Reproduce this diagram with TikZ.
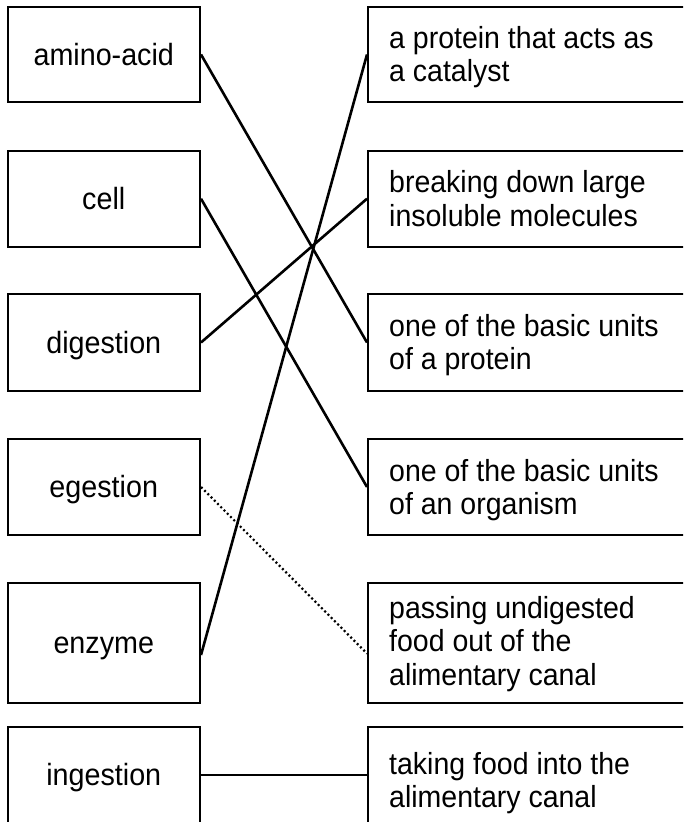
\documentclass[tikz,border=0pt]{standalone}
\usepackage{fontspec}
\usepackage{graphicx}
\setmainfont{Liberation Sans}
\newcommand{\tallt}[1]{\scalebox{1}[1.07]{#1}}
\begin{document}
\begin{tikzpicture}[x=1pt,y=-1pt,
  lbox/.style={draw=black, line width=2pt, minimum width=192.5pt, inner sep=0pt},
  rbox/.style={draw=black, line width=2pt, minimum width=332pt, inner sep=0pt},
  ltxt/.style={anchor=base, inner sep=0pt, font=\fontsize{28.7}{33.3}\selectfont},
  rtxt/.style={anchor=base west, inner sep=0pt, font=\fontsize{28.5}{33.3}\selectfont},
  link/.style={line width=2.6pt, black},
  dotlink/.style={line width=2.2pt, black, dash pattern=on 2pt off 2.6pt}]
\path[use as bounding box, clip] (0,0) rectangle (683,822);
\fill[white] (0,0) rectangle (683,822);
% left boxes
\node[lbox, minimum height=95pt]    (amino) at (103.75,54.5)  {};
\node[lbox, minimum height=96pt]    (cell)  at (103.75,198.7) {};
\node[lbox, minimum height=96.4pt]  (dig)   at (103.75,342.5) {};
\node[lbox, minimum height=96pt]    (eges)  at (103.75,487)   {};
\node[lbox, minimum height=120.6pt] (enz)   at (103.75,643)   {};
\node[lbox, minimum height=96.6pt]  (inges) at (103.75,775)   {};
\node[ltxt] (aminoT) at (103.75,65)    {\tallt{amino-acid}};
\node[ltxt] (cellT)  at (103.75,209.3) {\tallt{cell}};
\node[ltxt] (digT)   at (103.75,353)   {\tallt{digestion}};
\node[ltxt] (egesT)  at (103.75,497.5) {\tallt{egestion}};
\node[ltxt] (enzT)   at (103.75,653.3) {\tallt{enzyme}};
\node[ltxt] (ingesT) at (103.75,785)   {\tallt{ingestion}};
% right boxes
\node[rbox, minimum height=95pt]    (cat)   at (534,54.5)  {};
\node[rbox, minimum height=96pt]    (brk)   at (534,198.7) {};
\node[rbox, minimum height=96.4pt]  (prot)  at (534,342.5) {};
\node[rbox, minimum height=96pt]    (org)   at (534,487)   {};
\node[rbox, minimum height=120.6pt] (pass)  at (534,643)   {};
\node[rbox, minimum height=96.6pt]  (take)  at (534,775)   {};
\node[rtxt] (catA)  at (389,48.5)  {\tallt{a protein that acts as}};
\node[rtxt] (catB)  at (389,81.8)  {\tallt{a catalyst}};
\node[rtxt] (brkA)  at (389,192.7) {\tallt{breaking down large}};
\node[rtxt] (brkB)  at (389,226)   {\tallt{insoluble molecules}};
\node[rtxt] (protA) at (389,336.5) {\tallt{one of the basic units}};
\node[rtxt] (protB) at (389,369.8) {\tallt{of a protein}};
\node[rtxt] (orgA)  at (389,481)   {\tallt{one of the basic units}};
\node[rtxt] (orgB)  at (389,514.3) {\tallt{of an organism}};
\node[rtxt] (passA) at (389,618.3) {\tallt{passing undigested}};
\node[rtxt] (passB) at (389,651.7) {\tallt{food out of the}};
\node[rtxt] (passC) at (389,685)   {\tallt{alimentary canal}};
\node[rtxt] (takeA) at (389,774.5) {\tallt{taking food into the}};
\node[rtxt] (takeB) at (389,807.8) {\tallt{alimentary canal}};
% connectors
\draw[link] (amino.east) -- (prot.west);
\draw[link] (cell.east) -- (org.west);
\draw[link] (dig.east) -- (brk.west);
\draw[link] ([yshift=-12pt]enz.east) -- (cat.west);
\draw[dotlink] (eges.east) -- ([yshift=-10.5pt]pass.west);
\draw[link] (inges.east) -- (take.west);
\end{tikzpicture}
\end{document}
